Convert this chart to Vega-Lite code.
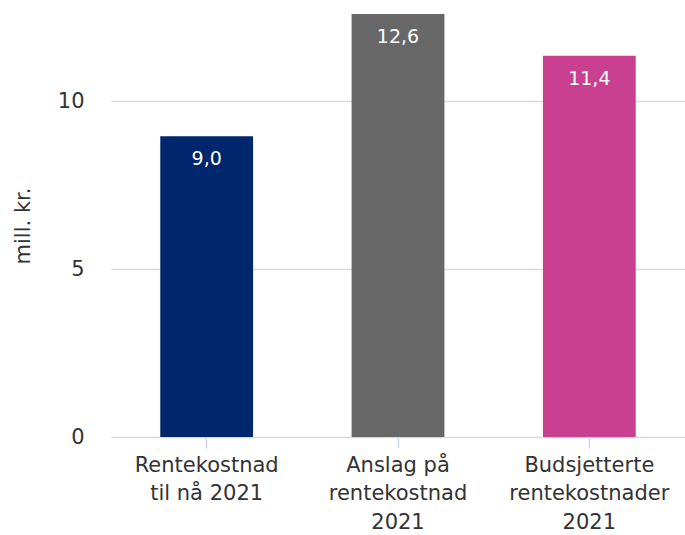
{
  "$schema": "https://vega.github.io/schema/vega-lite/v6.json",
  "width": 574,
  "height": 423,
  "autosize": "none",
  "padding": {"left": 111, "top": 14, "right": 0, "bottom": 98},
  "config": {
    "view": {"stroke": null},
    "font": "DejaVu Sans",
    "locale": {"number": {"decimal": ",", "thousands": " ", "grouping": [3], "currency": ["", " kr"]}}
  },
  "data": {
    "values": [
      {"kategori": "Rentekostnad|til nå 2021", "verdi": 8.96},
      {"kategori": "Anslag på|rentekostnad|2021", "verdi": 12.6},
      {"kategori": "Budsjetterte|rentekostnader|2021", "verdi": 11.36}
    ]
  },
  "encoding": {
    "x": {
      "field": "kategori",
      "type": "nominal",
      "sort": null,
      "scale": {"paddingInner": 0.515, "paddingOuter": 0.2575},
      "axis": {
        "title": null,
        "labelAngle": 0,
        "labelExpr": "split(datum.label, '|')",
        "labelFontSize": 21,
        "labelColor": "#333333",
        "labelLineHeight": 28.5,
        "labelPadding": 6,
        "labelLimit": 300,
        "domain": false,
        "tickColor": "#ccd6eb",
        "tickSize": 11,
        "tickWidth": 1.5,
        "grid": false
      }
    },
    "y": {
      "field": "verdi",
      "type": "quantitative",
      "scale": {"domain": [0, 12.6], "nice": false},
      "axis": {
        "title": "mill. kr.",
        "titleFontSize": 21,
        "titleFontWeight": "normal",
        "titleColor": "#333333",
        "titlePadding": 24,
        "values": [0, 5, 10],
        "format": "d",
        "labelFontSize": 21,
        "labelColor": "#333333",
        "labelPadding": 27,
        "domain": false,
        "ticks": false,
        "gridColor": "#d9d9d9",
        "gridWidth": 1.5
      }
    }
  },
  "layer": [
    {
      "mark": {"type": "bar"},
      "encoding": {
        "color": {
          "field": "kategori",
          "type": "nominal",
          "scale": {
            "domain": ["Rentekostnad|til nå 2021", "Anslag på|rentekostnad|2021", "Budsjetterte|rentekostnader|2021"],
            "range": ["#00266e", "#676767", "#c8408f"]
          },
          "legend": null
        }
      }
    },
    {
      "mark": {"type": "text", "baseline": "top", "dy": 14, "fontSize": 19, "color": "white"},
      "encoding": {
        "text": {"field": "verdi", "type": "quantitative", "format": ".1f"}
      }
    }
  ]
}
